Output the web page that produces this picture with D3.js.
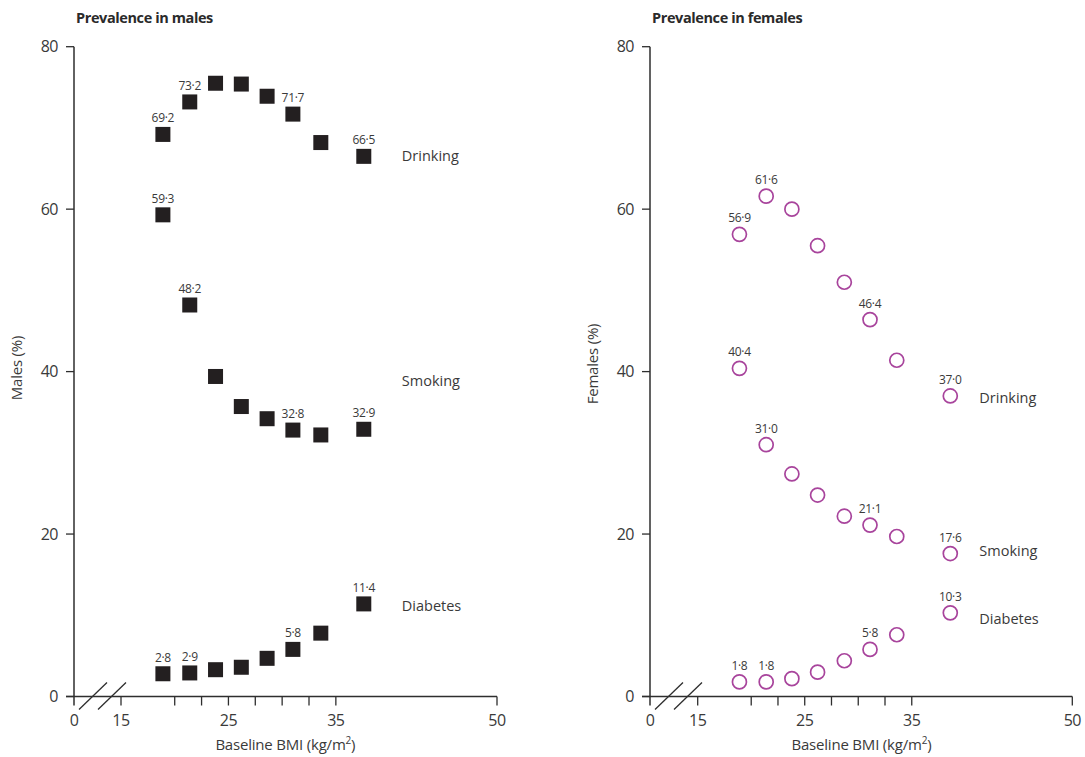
<!DOCTYPE html>
<html>
<head>
<meta charset="utf-8">
<script src="https://cdn.jsdelivr.net/npm/d3@7"></script>
<style>
  body { margin: 0; background: #fff; }
  svg { display: block; font-family: "Open Sans", "Noto Sans", sans-serif; }
  .tick-label { font-size: 16px; fill: #3a3a3a; letter-spacing: -0.5px; }
  .val-label { font-size: 12px; fill: #3a3a3a; letter-spacing: -0.3px; }
  .series-label { font-size: 14.5px; fill: #3a3a3a; }
  .title { font-size: 14.5px; font-weight: 700; fill: #2a2a2a; letter-spacing: -0.4px; }
  .axis-title { font-size: 15px; fill: #3a3a3a; letter-spacing: -0.2px; }
</style>
</head>
<body>
<svg id="chart" width="1085" height="757"></svg>
<script>
// data
const seriesNames = ['Drinking', 'Smoking', 'Diabetes'];
const bmiMales = [18.9, 21.4, 23.8, 26.2, 28.6, 31.0, 33.6, 37.6];
const bmiFemales = [18.9, 21.4, 23.8, 26.2, 28.7, 31.1, 33.6, 38.6];
const maleDrinking = [69.2, 73.2, 75.5, 75.4, 73.9, 71.7, 68.2, 66.5];
const maleSmoking = [59.3, 48.2, 39.4, 35.7, 34.2, 32.8, 32.2, 32.9];
const maleDiabetes = [2.8, 2.9, 3.3, 3.6, 4.7, 5.8, 7.8, 11.4];
const femaleDrinking = [56.9, 61.6, 60.0, 55.5, 51.0, 46.4, 41.4, 37.0];
const femaleSmoking = [40.4, 31.0, 27.4, 24.8, 22.2, 21.1, 19.7, 17.6];
const femaleDiabetes = [1.8, 1.8, 2.2, 3.0, 4.4, 5.8, 7.6, 10.3];
// which points carry a value label
const labelledIdx = [0, 1, 5, 7];
// value where each series name sits (same order as seriesNames)
const maleNameAt = [66.6, 38.9, 11.1];
const femaleNameAt = [36.8, 17.9, 9.5];
const yTicks = [0, 20, 40, 60, 80];
const xTicksMajor = [15, 25, 35, 50];
const xTicksMinor = [20, 22.5, 27.5, 30, 32.5];

const svg = d3.select('#chart');
const fmt = v => d3.format('.1f')(v).replace('.', '\u00b7');

function drawPanel(opts) {
  const g = svg.append('g');
  const x0 = opts.originX;
  const x = d3.scaleLinear().domain([15, 50]).range([opts.x15, opts.x50]);
  const y = d3.scaleLinear().domain([0, 80]).range([696.5, 46.7]);
  const ink = '#2e2e2e';

  // title
  g.append('text').attr('class', 'title')
    .attr('x', x0 + 2).attr('y', 23).text(opts.title);

  // y axis
  g.append('line')
    .attr('x1', x0).attr('x2', x0)
    .attr('y1', y(80)).attr('y2', y(0) + 9)
    .attr('stroke', ink).attr('stroke-width', 1.5);
  const yt = g.selectAll('.ytick').data(yTicks).enter().append('g')
    .attr('transform', d => `translate(0,${y(d)})`);
  yt.append('line').attr('x1', x0 - 8).attr('x2', x0)
    .attr('stroke', ink).attr('stroke-width', 1.3);
  yt.append('text').attr('class', 'tick-label')
    .attr('x', x0 - 16).attr('dy', '0.35em')
    .attr('text-anchor', 'end').text(d => d);

  // x axis
  g.append('line')
    .attr('x1', x0 - 8).attr('x2', x(50))
    .attr('y1', y(0)).attr('y2', y(0))
    .attr('stroke', ink).attr('stroke-width', 1.5);
  g.selectAll('.xminor').data(xTicksMajor.concat(xTicksMinor)).enter().append('line')
    .attr('x1', d => x(d)).attr('x2', d => x(d))
    .attr('y1', y(0)).attr('y2', y(0) + 9)
    .attr('stroke', ink).attr('stroke-width', 1.3);
  g.selectAll('.xlab').data([0].concat(xTicksMajor)).enter().append('text')
    .attr('class', 'tick-label')
    .attr('x', d => d === 0 ? x0 : x(d)).attr('y', y(0) + 29)
    .attr('text-anchor', 'middle').text(d => d);

  // axis break
  [0, 19].forEach(off => {
    g.append('line')
      .attr('x1', x0 + 5 + off).attr('y1', y(0) + 13)
      .attr('x2', x0 + 33 + off).attr('y2', y(0) - 14)
      .attr('stroke', ink).attr('stroke-width', 1.3);
  });

  // axis titles
  g.append('text').attr('class', 'axis-title')
    .attr('transform', `translate(${x0 - 57},${opts.yTitleY}) rotate(-90)`)
    .attr('text-anchor', 'middle').attr('dy', '0.35em').text(opts.yTitle);
  const xt = g.append('text').attr('class', 'axis-title')
    .attr('x', x(30.3)).attr('y', 750).attr('text-anchor', 'middle');
  xt.append('tspan').text('Baseline BMI (kg/m');
  xt.append('tspan').attr('dy', -6).attr('font-size', 10).text('2');
  xt.append('tspan').attr('dy', 6).text(')');

  // points
  opts.series.forEach((vals, si) => {
    const pts = vals.map((v, i) => ({ bmi: opts.bmi[i], v, i }));
    const sg = g.append('g');
    if (opts.marker === 'square') {
      sg.selectAll('rect').data(pts).enter().append('rect')
        .attr('x', d => x(d.bmi) - 7.5).attr('y', d => y(d.v) - 7.5)
        .attr('width', 15).attr('height', 15)
        .attr('fill', '#231f20');
    } else {
      sg.selectAll('circle').data(pts).enter().append('circle')
        .attr('cx', d => x(d.bmi)).attr('cy', d => y(d.v))
        .attr('r', 7)
        .attr('fill', 'none').attr('stroke', '#a8449c').attr('stroke-width', 1.7);
    }
    sg.selectAll('.val').data(pts.filter(d => labelledIdx.includes(d.i))).enter()
      .append('text').attr('class', 'val-label')
      .attr('x', d => x(d.bmi)).attr('y', d => y(d.v) - 12)
      .attr('text-anchor', 'middle').text(d => fmt(d.v));
    g.append('text').attr('class', 'series-label')
      .attr('x', x(opts.bmi[7]) + opts.nameGap)
      .attr('y', y(opts.nameAt[si])).attr('dy', '0.35em')
      .text(seriesNames[si]);
  });
}

drawPanel({
  title: 'Prevalence in males', yTitle: 'Males (%)', yTitleY: 368,
  originX: 74, x15: 121, x50: 497,
  bmi: bmiMales, series: [maleDrinking, maleSmoking, maleDiabetes],
  nameAt: maleNameAt, nameGap: 38, marker: 'square'
});
drawPanel({
  title: 'Prevalence in females', yTitle: 'Females (%)', yTitleY: 364,
  originX: 650, x15: 697.7, x50: 1072.3,
  bmi: bmiFemales, series: [femaleDrinking, femaleSmoking, femaleDiabetes],
  nameAt: femaleNameAt, nameGap: 29, marker: 'circle'
});
</script>
</body>
</html>
